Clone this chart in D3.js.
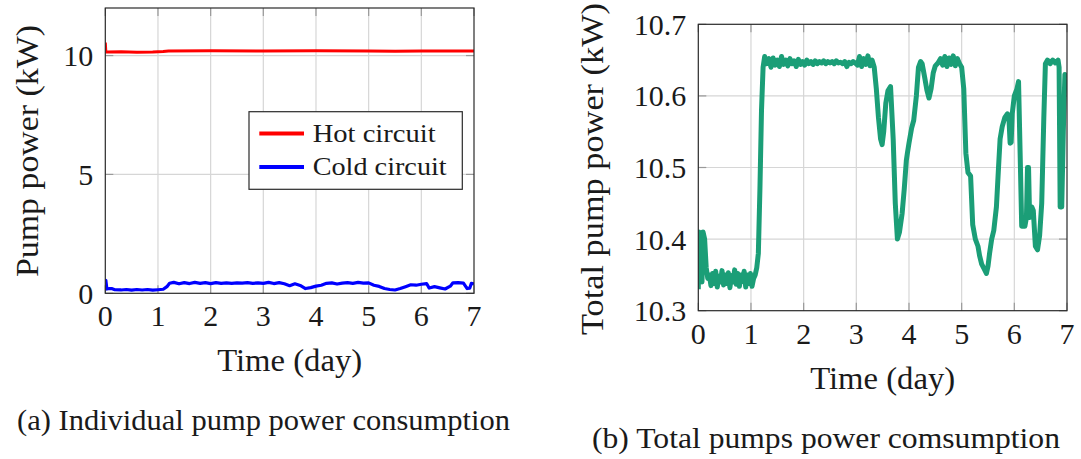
<!DOCTYPE html>
<html>
<head>
<meta charset="utf-8">
<script src="https://cdn.jsdelivr.net/npm/d3@7"></script>
<style>
  html, body { margin: 0; padding: 0; background: #fff; }
</style>
</head>
<body>
<svg id="fig" width="1081" height="459"></svg>
<script>
// ---- Data: pump power over one week (days) ----
const hotDays  = [0, 0.01, 0.05, 0.3, 0.6, 0.9, 1.1, 1.2, 2, 3, 4, 5, 5.5, 6, 7];
const hotPower = [10.55, 10.15, 10.15, 10.16, 10.14, 10.15, 10.17, 10.19, 10.2, 10.19, 10.2, 10.19, 10.18, 10.19, 10.19];

const coldDays  = [0, 0.01, 0.03, 0.08, 0.12, 0.18, 0.3, 0.4, 0.5, 0.6, 0.7, 0.8, 0.9, 1.0, 1.1,
  1.17, 1.22, 1.3, 1.4, 1.5, 1.6, 1.7, 1.8, 1.9, 2.0, 2.1, 2.2, 2.3, 2.4, 2.5, 2.6, 2.7, 2.8, 2.9,
  3.0, 3.1, 3.2, 3.3, 3.4, 3.5, 3.6, 3.7, 3.8, 3.9, 4.0, 4.1, 4.2, 4.3, 4.4, 4.5, 4.6, 4.7, 4.8,
  4.9, 5.0, 5.1, 5.2, 5.3, 5.4, 5.5, 5.6, 5.7, 5.8, 5.9, 6.0, 6.1, 6.15, 6.25, 6.35, 6.45, 6.55,
  6.6, 6.7, 6.8, 6.87, 6.92, 6.95, 7.0];
const coldPower = [0.15, 0.55, 0.18, 0.2, 0.2, 0.15, 0.14, 0.16, 0.13, 0.16, 0.14, 0.16, 0.13, 0.15, 0.17,
  0.28, 0.42, 0.46, 0.4, 0.45, 0.41, 0.46, 0.42, 0.45, 0.41, 0.45, 0.42, 0.44, 0.42, 0.44, 0.43, 0.45, 0.42, 0.44,
  0.42, 0.46, 0.41, 0.45, 0.4, 0.32, 0.4, 0.33, 0.2, 0.24, 0.3, 0.34, 0.42, 0.44, 0.39, 0.43, 0.45, 0.42, 0.46,
  0.43, 0.44, 0.34, 0.29, 0.2, 0.16, 0.14, 0.2, 0.28, 0.36, 0.34, 0.38, 0.41, 0.22, 0.28, 0.23, 0.18, 0.3,
  0.44, 0.45, 0.43, 0.2, 0.22, 0.42, 0.4];

const totalDays = [0, 0.01, 0.03, 0.05, 0.07, 0.09, 0.12, 0.15, 0.18,
  0.21, 0.24, 0.27, 0.30, 0.33, 0.36, 0.39, 0.42, 0.45, 0.48, 0.51, 0.54, 0.57, 0.60, 0.63, 0.66,
  0.69, 0.72, 0.75, 0.78, 0.81, 0.84, 0.87, 0.90, 0.93, 0.96, 0.99, 1.02, 1.05, 1.08, 1.11, 1.14,
  1.17, 1.20, 1.23, 1.26,
  1.30, 1.34, 1.38, 1.42, 1.46, 1.50, 1.54, 1.58, 1.62, 1.66, 1.70, 1.74, 1.78, 1.82, 1.86, 1.90,
  1.94, 1.98, 2.02, 2.06, 2.10, 2.14, 2.18, 2.22, 2.26, 2.30, 2.34, 2.38, 2.42, 2.46, 2.50, 2.54,
  2.58, 2.62, 2.66, 2.70, 2.74, 2.78, 2.82, 2.86, 2.90, 2.94, 2.98, 3.02, 3.06, 3.10, 3.14, 3.18,
  3.22, 3.26, 3.30, 3.34, 3.38, 3.42, 3.46, 3.49, 3.52, 3.56, 3.60, 3.65, 3.70, 3.74, 3.78, 3.82,
  3.87, 3.91, 3.95, 3.97, 4.00, 4.05, 4.09, 4.14, 4.18, 4.22, 4.25, 4.30, 4.34, 4.38, 4.42, 4.46,
  4.50, 4.55, 4.60, 4.64, 4.68, 4.72, 4.76, 4.80, 4.84, 4.88, 4.92, 4.96, 5.00, 5.04, 5.08, 5.12,
  5.17, 5.21, 5.26, 5.31, 5.34, 5.38, 5.43, 5.47, 5.50, 5.53, 5.57, 5.61, 5.66, 5.70, 5.73, 5.77,
  5.82, 5.87, 5.90, 5.92, 5.94, 5.96, 6.00, 6.05, 6.08, 6.11, 6.14, 6.20, 6.23, 6.25, 6.27, 6.29,
  6.33, 6.36, 6.40, 6.44, 6.48, 6.52, 6.56, 6.59, 6.63, 6.68, 6.73, 6.78, 6.83, 6.85, 6.87, 6.90,
  6.93, 6.96, 7.0];
const totalPower = [10.33, 10.41, 10.36, 10.39, 10.34, 10.41, 10.40, 10.36, 10.345,
  10.35, 10.335, 10.352, 10.338, 10.355, 10.333, 10.348, 10.34, 10.356, 10.336, 10.35, 10.338, 10.353, 10.332, 10.349, 10.34,
  10.357, 10.337, 10.352, 10.334, 10.35, 10.341, 10.355, 10.333, 10.35, 10.338, 10.352, 10.334, 10.345, 10.35, 10.36, 10.38,
  10.47, 10.58, 10.64, 10.655,
  10.645, 10.652, 10.64, 10.653, 10.643, 10.65, 10.641, 10.655, 10.644, 10.65, 10.642, 10.652, 10.645, 10.649, 10.641, 10.651,
  10.644, 10.648, 10.643, 10.65, 10.645, 10.648, 10.644, 10.649, 10.645, 10.648, 10.646, 10.649, 10.645, 10.648, 10.646, 10.648,
  10.645, 10.649, 10.646, 10.647, 10.645, 10.648, 10.641, 10.647, 10.645, 10.648, 10.646, 10.643, 10.655, 10.641, 10.652, 10.644,
  10.656, 10.642, 10.65, 10.64, 10.61, 10.57, 10.54, 10.532, 10.55, 10.59, 10.607, 10.613, 10.54, 10.45, 10.40, 10.41,
  10.436, 10.47, 10.51, 10.52, 10.534, 10.555, 10.566, 10.60, 10.64, 10.648, 10.645, 10.625, 10.608, 10.597, 10.61, 10.632,
  10.642, 10.646, 10.652, 10.643, 10.655, 10.641, 10.653, 10.644, 10.656, 10.642, 10.652, 10.645, 10.64, 10.61, 10.52, 10.493,
  10.488, 10.42, 10.40, 10.39, 10.377, 10.365, 10.358, 10.352, 10.362, 10.38, 10.40, 10.412, 10.445, 10.50, 10.54, 10.557,
  10.57, 10.575, 10.565, 10.534, 10.535, 10.575, 10.60, 10.61, 10.62, 10.52, 10.418, 10.418, 10.43, 10.50, 10.50, 10.43,
  10.445, 10.44, 10.39, 10.385, 10.405, 10.45, 10.57, 10.645, 10.65, 10.645, 10.65, 10.646, 10.65, 10.64, 10.445, 10.445,
  10.55, 10.63, 10.625];

const dayTicks = [0, 1, 2, 3, 4, 5, 6, 7];
const leftTicks = [0, 5, 10];
const rightTicks = [10.3, 10.4, 10.5, 10.6, 10.7];
const seriesNames = ["Hot circuit", "Cold circuit"];

// ---- Drawing ----
const FONT = "Liberation Serif";
const svg = d3.select("#fig");
svg.append("rect").attr("width", 1081).attr("height", 459).attr("fill", "#fff");

const GRID = "#d6d6d6", TICK = "#9a9a9a", FRAME = "#2a2a2a", INK = "#1a1a1a";

function label(sel) {
  return sel.attr("font-family", FONT).attr("fill", INK);
}

function panel(cfg) {
  const g = svg.append("g");
  const x = d3.scaleLinear().domain([0, 7]).range([cfg.left, cfg.right]);
  const y = d3.scaleLinear().domain(cfg.yDomain).range([cfg.bottom, cfg.top]);
  const clipId = "clip-" + cfg.id;
  svg.append("clipPath").attr("id", clipId).append("rect")
    .attr("x", cfg.left).attr("y", cfg.top)
    .attr("width", cfg.right - cfg.left).attr("height", cfg.bottom - cfg.top);

  // grid
  g.append("g").selectAll("line").data(dayTicks.slice(1, -1)).join("line")
    .attr("x1", d => x(d)).attr("x2", d => x(d))
    .attr("y1", cfg.top).attr("y2", cfg.bottom)
    .attr("stroke", GRID).attr("stroke-width", 1.2);
  g.append("g").selectAll("line").data(cfg.yTicks.filter(v => v > cfg.yDomain[0] && v < cfg.yDomain[1])).join("line")
    .attr("x1", cfg.left).attr("x2", cfg.right)
    .attr("y1", d => y(d)).attr("y2", d => y(d))
    .attr("stroke", GRID).attr("stroke-width", 1.2);

  // inner ticks on all four sides
  const tl = 8;
  const tg = g.append("g").attr("stroke", TICK).attr("stroke-width", 1.2);
  dayTicks.forEach(d => {
    tg.append("line").attr("x1", x(d)).attr("x2", x(d)).attr("y1", cfg.bottom).attr("y2", cfg.bottom - tl);
    tg.append("line").attr("x1", x(d)).attr("x2", x(d)).attr("y1", cfg.top).attr("y2", cfg.top + tl);
  });
  cfg.yTicks.forEach(v => {
    tg.append("line").attr("x1", cfg.left).attr("x2", cfg.left + tl).attr("y1", y(v)).attr("y2", y(v));
    tg.append("line").attr("x1", cfg.right).attr("x2", cfg.right - tl).attr("y1", y(v)).attr("y2", y(v));
  });

  // data lines
  const lg = g.append("g").attr("clip-path", `url(#${clipId})`);
  cfg.series.forEach(s => {
    const pts = s.days.map((d, i) => [d, s.values[i]]);
    lg.append("path")
      .attr("d", d3.line().x(p => x(p[0])).y(p => y(p[1]))(pts))
      .attr("fill", "none").attr("stroke", s.color)
      .attr("stroke-width", s.width).attr("stroke-linejoin", "round");
  });

  // frame
  g.append("rect").attr("x", cfg.left).attr("y", cfg.top)
    .attr("width", cfg.right - cfg.left).attr("height", cfg.bottom - cfg.top)
    .attr("fill", "none").attr("stroke", FRAME).attr("stroke-width", 1.2);

  // tick labels
  g.append("g").selectAll("text").data(dayTicks).join("text").call(label)
    .attr("x", d => x(d)).attr("y", cfg.bottom + 33)
    .attr("text-anchor", "middle").attr("font-size", 30)
    .text(d => d);
  g.append("g").selectAll("text").data(cfg.yTicks).join("text").call(label)
    .attr("x", cfg.left - 12).attr("y", d => y(d) + 10.5)
    .attr("text-anchor", "end").attr("font-size", 30)
    .text(cfg.yFormat);

  // axis titles
  g.append("text").call(label)
    .attr("x", (cfg.left + cfg.right) / 2).attr("y", cfg.bottom + 78)
    .attr("text-anchor", "middle").attr("font-size", 31)
    .attr("textLength", 145).attr("lengthAdjust", "spacingAndGlyphs")
    .text("Time (day)");
  g.append("text").call(label)
    .attr("transform", `translate(${cfg.yLabelX},${cfg.yLabelY}) rotate(-90)`)
    .attr("text-anchor", "middle").attr("font-size", 31)
    .attr("textLength", cfg.yLabelLen).attr("lengthAdjust", "spacingAndGlyphs")
    .text(cfg.yLabel);

  // caption
  g.append("text").call(label)
    .attr("x", cfg.capX).attr("y", cfg.capY)
    .attr("text-anchor", "middle").attr("font-size", 30)
    .attr("textLength", cfg.capLen).attr("lengthAdjust", "spacingAndGlyphs")
    .text(cfg.caption);

  return { g, x, y };
}

const left = panel({
  id: "a", left: 105.3, right: 474, top: 8, bottom: 293.3,
  yDomain: [0, 12], yTicks: leftTicks, yFormat: d => d,
  series: [
    { days: hotDays, values: hotPower, color: "#ff0000", width: 3 },
    { days: coldDays, values: coldPower, color: "#0000ff", width: 3.2 }
  ],
  yLabel: "Pump power (kW)", yLabelX: 38, yLabelY: 151, yLabelLen: 252,
  caption: "(a) Individual pump power consumption", capX: 263.5, capY: 430, capLen: 493
});

// legend
const lgd = left.g.append("g");
lgd.append("rect").attr("x", 249).attr("y", 111.7).attr("width", 213.3).attr("height", 77.6)
  .attr("fill", "#fff").attr("stroke", FRAME).attr("stroke-width", 1.2);
const legendColors = ["#ff0000", "#0000ff"];
const legendLens = [123, 134];
seriesNames.forEach((name, i) => {
  const cy = 133.5 + i * 33.5;
  lgd.append("line").attr("x1", 259.3).attr("x2", 304).attr("y1", cy).attr("y2", cy)
    .attr("stroke", legendColors[i]).attr("stroke-width", 4);
  lgd.append("text").call(label)
    .attr("x", 312.7).attr("y", cy + 8.3).attr("font-size", 26)
    .attr("textLength", legendLens[i]).attr("lengthAdjust", "spacingAndGlyphs")
    .text(name);
});

panel({
  id: "b", left: 698.3, right: 1067, top: 24.3, bottom: 310.7,
  yDomain: [10.3, 10.7], yTicks: rightTicks, yFormat: d => d.toFixed(1),
  series: [
    { days: totalDays, values: totalPower, color: "#1b9e77", width: 5 }
  ],
  yLabel: "Total pump power (kW)", yLabelX: 603, yLabelY: 169, yLabelLen: 332,
  caption: "(b) Total pumps power comsumption", capX: 826, capY: 448, capLen: 468
});
</script>
</body>
</html>
